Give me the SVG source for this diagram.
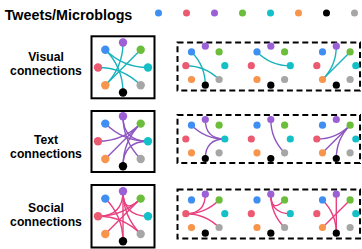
<svg xmlns="http://www.w3.org/2000/svg" xmlns:xlink="http://www.w3.org/1999/xlink" width="362" height="249" viewBox="0 0 362 249">
<style>
.t{font-family:"Liberation Sans",Arial,sans-serif;font-weight:bold;fill:#000}
.h{font-size:14.3px}
.l{font-size:12.2px;text-anchor:middle}
.c1{fill:#3f8ef2}.c2{fill:#ec5a72}.c3{fill:#9b5fd6}.c4{fill:#6cbd3c}.c5{fill:#14c0c8}.c6{fill:#f7954c}.c7{fill:#000}.c8{fill:#a6a6a6}
.box{fill:#fff;stroke:#000;stroke-width:2}
.dash{fill:none;stroke:#000;stroke-width:2;stroke-dasharray:6 3.6}
.e{fill:none;stroke-width:1.4;stroke-linecap:round}
.ev{stroke:#1ab3bd}.et{stroke:#8e56c0}.es{stroke:#e8407f}
</style>
<defs>
<g id="ringL">
<circle class="c3" cx="0" cy="-25" r="4.2"/>
<circle class="c4" cx="17.7" cy="-17.7" r="4.2"/>
<circle class="c5" cx="25" cy="0" r="4.2"/>
<circle class="c8" cx="17.7" cy="17.7" r="4.2"/>
<circle class="c7" cx="0" cy="25" r="4.2"/>
<circle class="c6" cx="-17.7" cy="17.7" r="4.2"/>
<circle class="c2" cx="-25" cy="0" r="4.2"/>
<circle class="c1" cx="-17.7" cy="-17.7" r="4.2"/>
</g>
<g id="ringS">
<circle class="c3" cx="0" cy="-19.5" r="3.6"/>
<circle class="c4" cx="13.8" cy="-13.8" r="3.6"/>
<circle class="c5" cx="19.5" cy="0" r="3.6"/>
<circle class="c8" cx="13.8" cy="13.8" r="3.6"/>
<circle class="c7" cx="0" cy="19.5" r="3.6"/>
<circle class="c6" cx="-13.8" cy="13.8" r="3.6"/>
<circle class="c2" cx="-19.5" cy="0" r="3.6"/>
<circle class="c1" cx="-13.8" cy="-13.8" r="3.6"/>
</g>
</defs>

<g id="header">
<text class="t h" x="4.7" y="19.5">Tweets/Microblogs</text>
<circle class="c1" cx="158.5" cy="13" r="3.5"/>
<circle class="c2" cx="186.5" cy="13" r="3.5"/>
<circle class="c3" cx="214.5" cy="13" r="3.5"/>
<circle class="c4" cx="242.5" cy="13" r="3.5"/>
<circle class="c5" cx="270.5" cy="13" r="3.5"/>
<circle class="c6" cx="298.5" cy="13" r="3.5"/>
<circle class="c7" cx="326.5" cy="13" r="3.5"/>
<circle class="c8" cx="354.5" cy="13" r="3.5"/>
</g>

<g id="labels">
<text class="t l" x="46" y="61">Visual</text>
<text class="t l" x="46" y="75">connections</text>
<text class="t l" x="46" y="144">Text</text>
<text class="t l" x="46" y="158">connections</text>
<text class="t l" x="46" y="212">Social</text>
<text class="t l" x="46" y="226">connections</text>
</g>

<g id="frames">
<rect class="box" x="91.5" y="36.3" width="63" height="62"/>
<rect class="box" x="91.5" y="111" width="63" height="61"/>
<rect class="box" x="91.5" y="185" width="63" height="62.5"/>
<rect class="dash" x="177.5" y="42.5" width="182.5" height="48"/>
<rect class="dash" x="177.5" y="115" width="182.5" height="48"/>
<rect class="dash" x="177.5" y="189.5" width="182.5" height="49"/>
</g>

<g id="connectors">
<g transform="translate(123,67.5)" class="e ev">
<path d="M-17.7,-17.7 Q0,0 0,25"/>
<path d="M-25,0 Q0,0 17.7,17.7"/>
<path d="M-17.7,-17.7 Q0,0 25,0"/>
<path d="M-17.7,17.7 Q0,0 17.7,-17.7"/>
<path d="M-17.7,17.7 Q0,0 0,-25"/>
</g>
<g transform="translate(123,141.3)" class="e et">
<path d="M25,0 Q0,0 -17.7,-17.7"/>
<path d="M25,0 Q0,0 0,-25"/>
<path d="M25,0 Q0,0 0,25"/>
<path d="M0,-25 Q0,0 17.7,17.7"/>
<path d="M17.7,-17.7 Q0,0 -25,0"/>
<path d="M17.7,-17.7 Q0,0 -17.7,17.7"/>
<path d="M17.7,-17.7 Q0,0 0,25"/>
</g>
<g transform="translate(123,216.3)" class="e es">
<path d="M-25,0 Q0,0 0,-25"/>
<path d="M-25,0 Q0,0 17.7,-17.7"/>
<path d="M-25,0 Q0,0 17.7,17.7"/>
<path d="M0,-25 Q0,0 17.7,-17.7"/>
<path d="M0,-25 Q0,0 25,0"/>
<path d="M0,-25 Q0,0 17.7,17.7"/>
<path d="M-17.7,17.7 Q0,0 17.7,-17.7"/>
<path d="M0,-25 Q0,0 0,25"/>
<path d="M-17.7,-17.7 Q0,0 0,25"/>
</g>
<g transform="translate(205.3,65.7)" class="e ev">
<path d="M-13.8,-13.8 Q0,0 0,19.5"/>
<path d="M-19.5,0 Q0,0 13.8,13.8"/>
</g>
<g transform="translate(270.8,65.7)" class="e ev">
<path d="M-13.8,-13.8 Q0,0 19.5,0"/>
</g>
<g transform="translate(336.3,65.7)" class="e ev">
<path d="M-13.8,13.8 Q0,0 13.8,-13.8"/>
<path d="M-13.8,13.8 Q0,0 0,-19.5"/>
</g>
<g transform="translate(205.3,139)" class="e et">
<path d="M19.5,0 Q0,0 -13.8,-13.8"/>
<path d="M19.5,0 Q0,0 0,-19.5"/>
<path d="M19.5,0 Q0,0 0,19.5"/>
</g>
<g transform="translate(270.8,139)" class="e et">
<path d="M0,-19.5 Q0,0 13.8,13.8"/>
</g>
<g transform="translate(336.3,139)" class="e et">
<path d="M13.8,-13.8 Q0,0 -19.5,0"/>
<path d="M13.8,-13.8 Q0,0 -13.8,13.8"/>
<path d="M13.8,-13.8 Q0,0 0,19.5"/>
</g>
<g transform="translate(205.3,213.7)" class="e es">
<path d="M-19.5,0 Q0,0 0,-19.5"/>
<path d="M-19.5,0 Q0,0 13.8,-13.8"/>
<path d="M-19.5,0 Q0,0 13.8,13.8"/>
</g>
<g transform="translate(270.8,213.7)" class="e es">
<path d="M0,-19.5 Q0,0 13.8,-13.8"/>
<path d="M0,-19.5 Q0,0 19.5,0"/>
<path d="M0,-19.5 Q0,0 13.8,13.8"/>
</g>
<g transform="translate(336.3,213.7)" class="e es">
<path d="M-13.8,13.8 Q0,0 13.8,-13.8"/>
<path d="M0,-19.5 Q0,0 0,19.5"/>
<path d="M-13.8,-13.8 Q0,0 0,19.5"/>
</g>
</g>

<g id="visual-all"><use xlink:href="#ringL" transform="translate(123,67.5)"/></g>
<g id="text-all"><use xlink:href="#ringL" transform="translate(123,141.3)"/></g>
<g id="social-all"><use xlink:href="#ringL" transform="translate(123,216.3)"/></g>
<g id="visual-1"><use xlink:href="#ringS" transform="translate(205.3,65.7)"/></g>
<g id="visual-2"><use xlink:href="#ringS" transform="translate(270.8,65.7)"/></g>
<g id="visual-3"><use xlink:href="#ringS" transform="translate(336.3,65.7)"/></g>
<g id="text-1"><use xlink:href="#ringS" transform="translate(205.3,139)"/></g>
<g id="text-2"><use xlink:href="#ringS" transform="translate(270.8,139)"/></g>
<g id="text-3"><use xlink:href="#ringS" transform="translate(336.3,139)"/></g>
<g id="social-1"><use xlink:href="#ringS" transform="translate(205.3,213.7)"/></g>
<g id="social-2"><use xlink:href="#ringS" transform="translate(270.8,213.7)"/></g>
<g id="social-3"><use xlink:href="#ringS" transform="translate(336.3,213.7)"/></g>
</svg>
